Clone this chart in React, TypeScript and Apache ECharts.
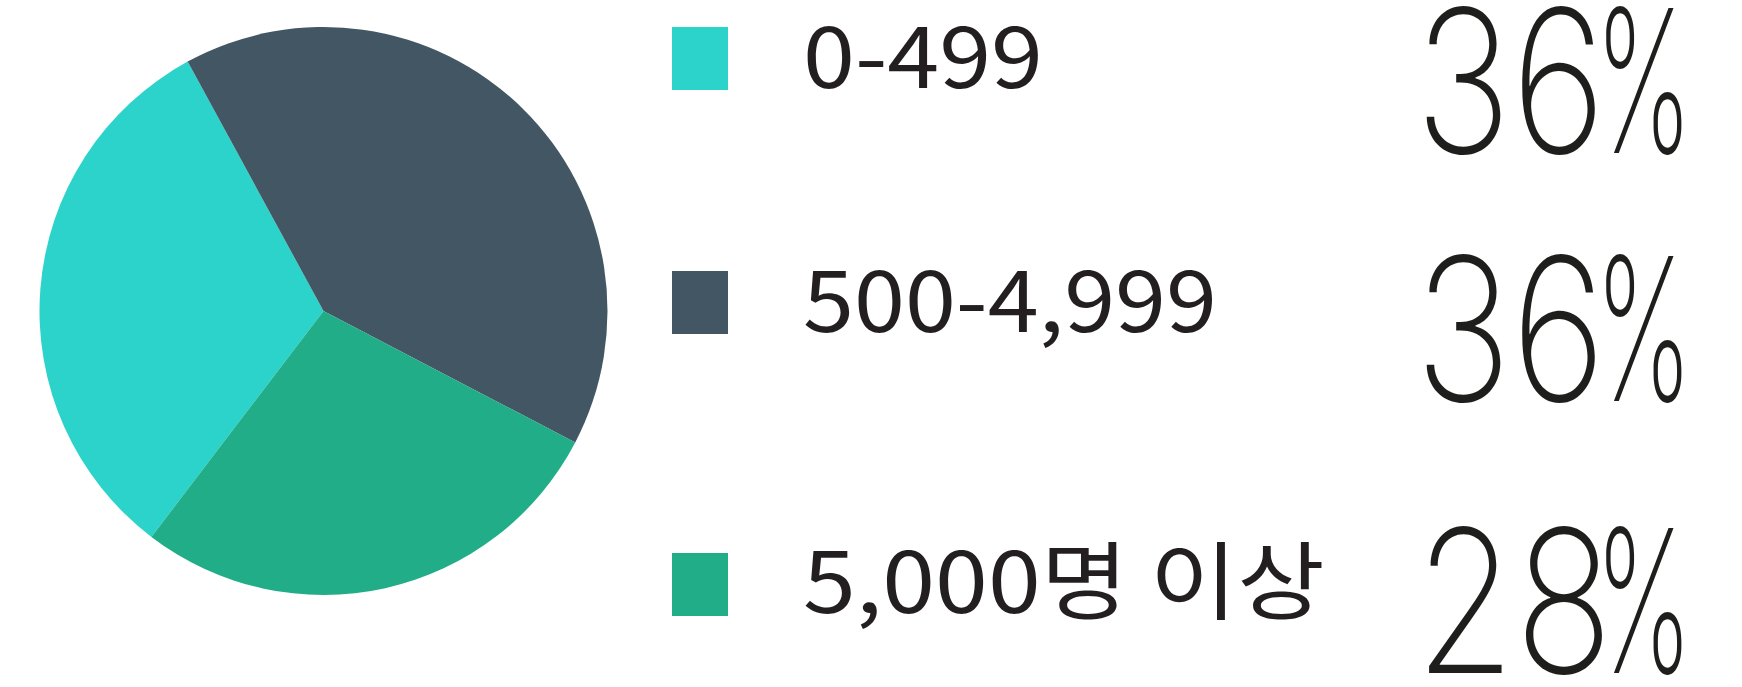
import React, { useEffect, useRef } from "react";
import * as echarts from "echarts";

const categories = ["0-499", "500-4,999", "5,000명 이상"];
const sliceValues = [31.7, 40.6, 27.7];
const percentNumbers = ["36", "36", "28"];
const percentSign = "%";
const colors = ["#2cd3ca", "#435664", "#20ad88"];

export default function App() {
  const ref = useRef<HTMLDivElement>(null);
  useEffect(() => {
    document.body.style.margin = "0";
    const chart = echarts.init(ref.current!, null, { renderer: "svg" });
    const rowSquareTop = [27, 271, 553];
    const rowLabelY = [51, 295, 576];
    const rowPctY = [81, 329, 601];
    const labelScaleX = [1.1, 1.08, 1.12];
    const graphic: any[] = [];
    categories.forEach((c, i) => {
      graphic.push({
        type: "rect",
        shape: { x: 672, y: rowSquareTop[i], width: 56, height: 63 },
        style: { fill: colors[i] },
        silent: true,
      });
      graphic.push({
        type: "text",
        x: 803,
        y: rowLabelY[i],
        scaleX: labelScaleX[i],
        style: {
          text: c,
          fontFamily: "Noto Sans CJK KR",
          fontSize: 85,
          lineHeight: 85,
          fill: "#231f20",
          align: "left",
          verticalAlign: "middle",
        },
      });
      graphic.push({
        type: "text",
        x: 1415,
        y: rowPctY[i],
        scaleX: 0.815,
        style: {
          text: percentNumbers[i],
          fontFamily: "Inter",
          fontWeight: 200,
          fontSize: 199,
          lineHeight: 150,
          fill: "#1e1e1c",
          align: "left",
          verticalAlign: "middle",
        },
      });
      graphic.push({
        type: "text",
        x: 1595,
        y: rowPctY[i],
        scaleX: 0.55,
        style: {
          text: percentSign,
          fontFamily: "Inter",
          fontWeight: 200,
          fontSize: 199,
          lineHeight: 150,
          fill: "#1e1e1c",
          align: "left",
          verticalAlign: "middle",
        },
      });
    });
    chart.setOption({
      animation: false,
      backgroundColor: "#ffffff",
      color: colors,
      series: [
        {
          type: "pie",
          center: [323.5, 311],
          radius: 284,
          startAngle: 232.7,
          clockwise: true,
          label: { show: false },
          labelLine: { show: false },
          emphasis: { disabled: true },
          itemStyle: { borderWidth: 0 },
          data: categories.map((c, i) => ({ name: c, value: sliceValues[i] })),
        },
      ],
      graphic,
    });
    return () => chart.dispose();
  }, []);
  return (
    <div
      ref={ref}
      style={{ position: "fixed", left: 0, top: 0, width: 1742, height: 687 }}
    />
  );
}
